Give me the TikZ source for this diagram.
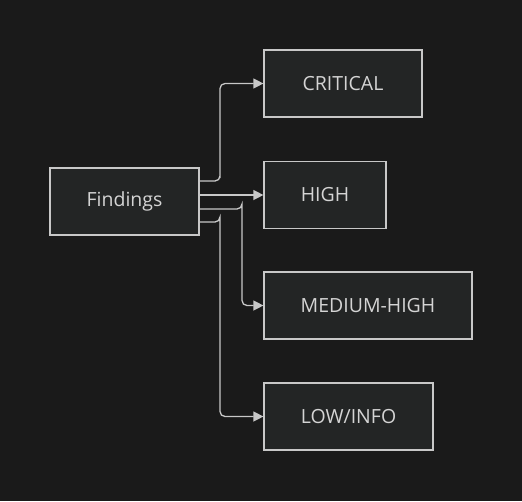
\documentclass[tikz,border=0pt]{standalone}
\usepackage{fontspec}
\setmainfont{Open Sans}
\usetikzlibrary{arrows.meta}
\definecolor{bg}{HTML}{1A1A1A}
\definecolor{boxfill}{HTML}{232525}
\definecolor{edge}{HTML}{C8C8C8}
\definecolor{txt}{HTML}{D4D4D4}
\begin{document}
\begin{tikzpicture}[x=1pt,y=-1pt,
  box/.style={draw=edge, fill=boxfill, line width=1.2pt, minimum height=67pt, inner sep=0pt, text=txt, font=\fontsize{19.5}{22}\selectfont},
  conn/.style={draw=edge, line width=1.3pt, rounded corners=5pt, -{Triangle[length=10pt,width=10pt]}}]
\fill[bg] (0,0) rectangle (522,501);
\useasboundingbox (0,0) rectangle (522,501);
\node[box, minimum width=149pt] (f) at (124.5,201.5) {Findings};
\node[box, minimum width=158pt] (c) at (343,83.5) {CRITICAL};
\node[box, minimum width=122pt] (h) at (325,195) {HIGH};
\node[box, minimum width=208pt] (m) at (368,305.5) {MEDIUM-HIGH};
\node[box, minimum width=169pt] (l) at (348.5,416.5) {LOW/INFO};
\coordinate (f1) at (f.east |- 0,181);
\coordinate (f3) at (f.east |- 0,209);
\coordinate (f4) at (f.east |- 0,222);
\draw[conn] (f1) -| (220,181) |- (c.west);
\draw[conn] (f.east |- h.west) -- (h.west);
\draw[conn] (f3) -| (242,209) |- (m.west);
\draw[conn] (f4) -| (220,222) |- (l.west);
\end{tikzpicture}
\end{document}
